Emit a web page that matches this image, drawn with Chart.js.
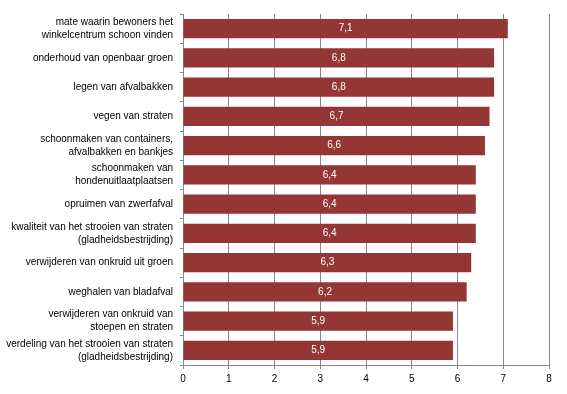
<!DOCTYPE html>
<html>
<head>
<meta charset="utf-8">
<script src="https://cdn.jsdelivr.net/npm/chart.js@4"></script>
<style>
  html, body { margin: 0; padding: 0; background: #fff; }
  #wrap { width: 567px; height: 394px; }
</style>
</head>
<body>
<div id="wrap"><canvas id="chart" width="567" height="394"></canvas></div>
<script>
const labels = [
    ['mate waarin bewoners het', 'winkelcentrum schoon vinden'],
    'onderhoud van openbaar groen',
    'legen van afvalbakken',
    'vegen van straten',
    ['schoonmaken van containers,', 'afvalbakken en bankjes'],
    ['schoonmaken van', 'hondenuitlaatplaatsen'],
    'opruimen van zwerfafval',
    ['kwaliteit van het strooien van straten', '(gladheidsbestrijding)'],
    'verwijderen van onkruid uit groen',
    'weghalen van bladafval',
    ['verwijderen van onkruid van', 'stoepen en straten'],
    ['verdeling van het strooien van straten', '(gladheidsbestrijding)']
];
const scores = [7.1, 6.8, 6.8, 6.7, 6.6, 6.4, 6.4, 6.4, 6.3, 6.2, 5.9, 5.9];
const xTicks = [0, 1, 2, 3, 4, 5, 6, 7, 8];

const fontFamily = '"Liberation Sans", Arial, sans-serif';

// value labels inside the bars
const valueLabels = {
    id: 'valueLabels',
    afterDatasetsDraw(chart) {
        const ctx = chart.ctx;
        const meta = chart.getDatasetMeta(0);
        ctx.save();
        ctx.fillStyle = '#ffffff';
        ctx.font = '10px ' + fontFamily;
        ctx.textAlign = 'center';
        ctx.textBaseline = 'middle';
        meta.data.forEach((bar, i) => {
            const cx = (bar.x + bar.base) / 2;
            ctx.fillText(scores[i].toFixed(1).replace('.', ','), cx, bar.y);
        });
        ctx.restore();
    }
};

const ctx = document.getElementById('chart').getContext('2d');
new Chart(ctx, {
    type: 'bar',
    data: {
        labels: labels,
        datasets: [{
            data: scores,
            backgroundColor: '#943634',
            borderWidth: 0,
            barPercentage: 0.65,
            categoryPercentage: 1
        }]
    },
    options: {
        indexAxis: 'y',
        responsive: false,
        animation: false,
        layout: { padding: { top: 14, right: 18, left: 0, bottom: 0 } },
        plugins: {
            legend: { display: false },
            tooltip: { enabled: false }
        },
        scales: {
            x: {
                min: 0,
                max: 8,
                afterBuildTicks: (scale) => { scale.ticks = xTicks.map(v => ({ value: v })); },
                afterFit: (scale) => {
                    scale.height = 29;
                    scale.paddingLeft = 0;
                    scale.paddingRight = 0;
                },
                grid: { color: '#868686', lineWidth: 1, tickLength: 4 },
                border: { color: '#868686' },
                ticks: {
                    color: '#000',
                    font: { family: fontFamily, size: 10 },
                    padding: 4
                }
            },
            y: {
                afterFit: (scale) => {
                    scale.width = 183;
                    scale.paddingTop = 0;
                    scale.paddingBottom = 0;
                },
                grid: { drawOnChartArea: false, color: '#868686', tickLength: 3, offset: true },
                border: { color: '#868686' },
                ticks: {
                    autoSkip: false,
                    color: '#000',
                    font: { family: fontFamily, size: 10, lineHeight: 1.3 },
                    padding: 7
                }
            }
        }
    },
    plugins: [valueLabels]
});
</script>
</body>
</html>
